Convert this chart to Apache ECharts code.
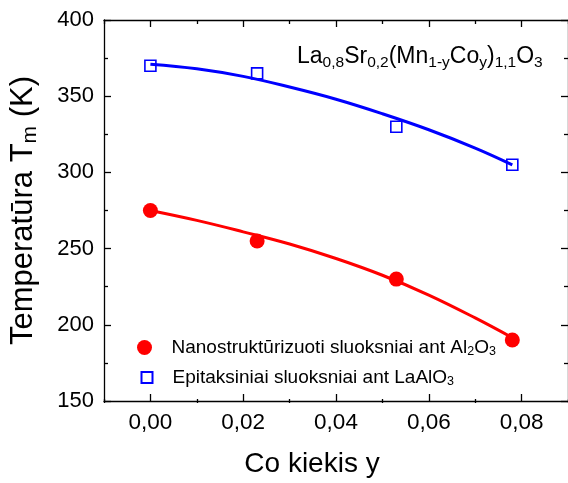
<!DOCTYPE html>
<html>
<head>
<meta charset="utf-8">
<script src="https://cdn.jsdelivr.net/npm/echarts@6/dist/echarts.min.js"></script>
<style>
  html, body { margin: 0; padding: 0; background: #fff; }
  #chart { width: 568px; height: 483px; }
</style>
</head>
<body>
<div id="chart"></div>
<script>
// Co content y and transition temperatures Tm (K)
const coRed = [0, 0.023, 0.053, 0.078];
const tmRed = [275, 255, 230, 190];
const coBlue = [0, 0.023, 0.053, 0.078];
const tmBlue = [370, 365, 330, 305];

// Fitted trend curves
const fitCo = [0, 0.01, 0.02, 0.03, 0.04, 0.05, 0.06, 0.07, 0.078];
const fitRed = [275, 268.5, 261, 253, 243.5, 232.5, 219.5, 204.5, 191.5];
const fitBlue = [371, 368, 363, 356, 348, 338.5, 328, 316, 305];

// Axis ticks
const xMajorTicks = [0, 0.02, 0.04, 0.06, 0.08];
const xMinorTicks = [-0.01, 0.01, 0.03, 0.05, 0.07, 0.09];

const nameRed = 'Nanostruktūrizuoti sluoksniai ant Al2O3';
const nameBlue = 'Epitaksiniai sluoksniai ant LaAlO3';

const FONT = '"Liberation Sans", Arial, sans-serif';
const pairs = (xs, ys) => xs.map((x, i) => [x, ys[i]]);

const chart = echarts.init(document.getElementById('chart'), null, { renderer: 'canvas' });

const gridBox = { left: 104, right: -6, top: 20, bottom: 80 };
const axisLineStyle = { color: '#000', width: 1.3 };

// Rich text styles: m = main text, s = subscript, p = main text with left indent
const subRich = (size, subSize, drop, indent) => ({
  m: { fontSize: size, fontFamily: FONT, fontWeight: 'normal', color: '#000' },
  p: { fontSize: size, fontFamily: FONT, fontWeight: 'normal', color: '#000', padding: [0, 0, 0, indent || 0] },
  s: { fontSize: subSize, fontFamily: FONT, fontWeight: 'normal', color: '#000', padding: [drop, 0, 0, 0] }
});

const legendText = {
  [nameRed]: '{p|Nanostruktūrizuoti sluoksniai ant Al}{s|2}{m|O}{s|3}',
  [nameBlue]: '{p|Epitaksiniai sluoksniai ant LaAlO}{s|3}'
};

const option = {
  backgroundColor: '#fff',
  animation: false,
  title: {
    text: '{m|La}{s|0,8}{m|Sr}{s|0,2}{m|(Mn}{s|1-y}{m|Co}{s|y}{m|)}{s|1,1}{m|O}{s|3}',
    left: 292,
    top: 38,
    textStyle: { fontWeight: 'normal', rich: subRich(23, 15.5, 12) }
  },
  grid: [Object.assign({}, gridBox), Object.assign({}, gridBox)],
  legend: [
    {
      data: [nameRed],
      left: 137, top: 338, padding: 0,
      itemWidth: 15, itemHeight: 15,
      formatter: n => legendText[n],
      textStyle: { rich: subRich(19, 12.5, 9, 14.5) }
    },
    {
      data: [nameBlue],
      left: 140.5, top: 368, padding: 0,
      itemWidth: 11, itemHeight: 11,
      formatter: n => legendText[n],
      textStyle: { rich: subRich(19, 12.5, 9, 15) }
    }
  ],
  xAxis: [
    {
      type: 'value', gridIndex: 0, position: 'bottom',
      min: -0.01, max: 0.09,
      axisLine: { onZero: false, lineStyle: axisLineStyle },
      axisTick: { inside: true, length: 7, customValues: xMajorTicks, lineStyle: axisLineStyle },
      axisLabel: {
        customValues: xMajorTicks, margin: 10,
        fontSize: 22.5, fontFamily: FONT, color: '#000',
        formatter: v => v.toFixed(2).replace('.', ',')
      },
      splitLine: { show: false },
      name: 'Co kiekis y', nameLocation: 'middle', nameGap: 49,
      nameTextStyle: { fontSize: 28, fontFamily: FONT, color: '#000', padding: [0, 48, 0, 0] }
    },
    {
      type: 'value', gridIndex: 0, position: 'top',
      min: -0.01, max: 0.09,
      axisLine: { onZero: false, lineStyle: axisLineStyle },
      axisTick: { inside: true, length: 7, customValues: xMajorTicks, lineStyle: axisLineStyle },
      axisLabel: { show: false },
      splitLine: { show: false }
    },
    {
      type: 'value', gridIndex: 1, position: 'bottom',
      min: -0.01, max: 0.09,
      axisLine: { show: false, onZero: false },
      axisTick: { inside: true, length: 4, customValues: xMinorTicks, lineStyle: axisLineStyle },
      axisLabel: { show: false },
      splitLine: { show: false }
    },
    {
      type: 'value', gridIndex: 1, position: 'top',
      min: -0.01, max: 0.09,
      axisLine: { show: false, onZero: false },
      axisTick: { inside: true, length: 4, customValues: xMinorTicks, lineStyle: axisLineStyle },
      axisLabel: { show: false },
      splitLine: { show: false }
    }
  ],
  yAxis: [
    {
      type: 'value', gridIndex: 0, position: 'left',
      min: 150, max: 400, interval: 50,
      axisLine: { show: true, onZero: false, lineStyle: axisLineStyle },
      axisTick: { show: true, inside: true, length: 7, lineStyle: axisLineStyle },
      minorTick: { show: true, splitNumber: 2, length: 4, lineStyle: axisLineStyle },
      axisLabel: { margin: 10, fontSize: 22, fontFamily: FONT, color: '#000' },
      splitLine: { show: false },
      minorSplitLine: { show: false },
      name: '{m|Temperatūra T}{s|m}{m| (K)}',
      nameLocation: 'middle', nameRotate: 90, nameGap: 63,
      nameTextStyle: { rich: subRich(31, 21, 14) }
    },
    {
      type: 'value', gridIndex: 0, position: 'right',
      min: 150, max: 400, interval: 50,
      axisLine: { show: true, onZero: false, lineStyle: axisLineStyle },
      axisTick: { show: true, inside: true, length: 7, lineStyle: axisLineStyle },
      minorTick: { show: true, splitNumber: 2, length: 4, lineStyle: axisLineStyle },
      axisLabel: { show: false },
      splitLine: { show: false }
    },
    {
      type: 'value', gridIndex: 1, min: 150, max: 400, show: false
    }
  ],
  series: [
    {
      name: 'fitRed', type: 'line', xAxisIndex: 0, yAxisIndex: 0,
      data: pairs(fitCo, fitRed), smooth: 0.4, showSymbol: false,
      lineStyle: { color: '#ff0000', width: 3 }, z: 2, silent: true
    },
    {
      name: 'fitBlue', type: 'line', xAxisIndex: 0, yAxisIndex: 0,
      data: pairs(fitCo, fitBlue), smooth: 0.4, showSymbol: false,
      lineStyle: { color: '#0000ff', width: 3 }, z: 2, silent: true
    },
    {
      name: nameRed, type: 'scatter', xAxisIndex: 0, yAxisIndex: 0,
      data: pairs(coRed, tmRed), symbol: 'circle', symbolSize: 15,
      itemStyle: { color: '#ff0000', opacity: 1 }, z: 3
    },
    {
      name: nameBlue, type: 'scatter', xAxisIndex: 0, yAxisIndex: 0,
      data: pairs(coBlue, tmBlue), symbol: 'rect', symbolSize: 11,
      itemStyle: { color: 'rgba(255,255,255,0)', borderColor: '#0000ff', borderWidth: 1.6, opacity: 1 }, z: 3
    }
  ]
};

chart.setOption(option);
</script>
</body>
</html>
